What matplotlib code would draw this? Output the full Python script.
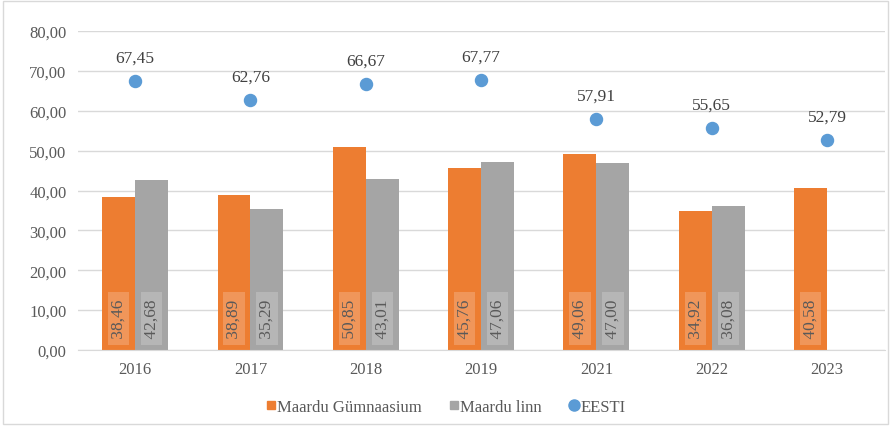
import matplotlib
matplotlib.use('Agg')
import matplotlib.pyplot as plt
import numpy as np

years = ['2016', '2017', '2018', '2019', '2021', '2022', '2023']
gymnasium = [38.46, 38.89, 50.85, 45.76, 49.06, 34.92, 40.58]
linn = [42.68, 35.29, 43.01, 47.06, 47.00, 36.08, None]
eesti = [67.45, 62.76, 66.67, 67.77, 57.91, 55.65, 52.79]

ORANGE = '#ED7D31'
GRAY = '#A5A5A5'
BLUE = '#5B9BD5'
TEXT = '#595959'

plt.rcParams['font.family'] = ['Liberation Serif', 'DejaVu Serif']


def fmt(v):
    return f'{v:.2f}'.replace('.', ',')


def inside_label(xpos, v):
    # value printed vertically near the foot of the bar, on a pale box
    ax.text(xpos, 8.0, ' ' + fmt(v) + ' ', rotation=90, ha='center', va='center',
            fontsize=12.5, color=TEXT, zorder=4,
            bbox=dict(boxstyle='square,pad=0.15', fc='white', ec='none', alpha=0.2))


fig = plt.figure(figsize=(8.91, 4.27), dpi=100)
ax = fig.add_axes([0.087, 0.178, 0.906, 0.747])

x = np.arange(len(years))
w = 0.286

for i, v in enumerate(gymnasium):
    ax.bar(x[i] - w / 2, v, w, color=ORANGE, zorder=2)
    inside_label(x[i] - w / 2, v)
for i, v in enumerate(linn):
    if v is None:
        continue
    ax.bar(x[i] + w / 2, v, w, color=GRAY, zorder=2)
    inside_label(x[i] + w / 2, v)

ax.scatter(x, eesti, s=75, color=BLUE, zorder=3)
for xi, v in zip(x, eesti):
    ax.annotate(fmt(v), (xi, v), xytext=(0, 11), textcoords='offset points',
                ha='center', va='bottom', fontsize=12.5, color='#404040')

ax.set_xlim(-0.5, len(years) - 0.5)
ax.set_ylim(0, 80)
ax.set_yticks(np.arange(0, 81, 10))
ax.set_yticklabels([fmt(t) for t in np.arange(0, 81, 10)])
ax.set_xticks(x)
ax.set_xticklabels(years)
ax.tick_params(axis='both', length=0, labelsize=12, labelcolor=TEXT, pad=8)
ax.grid(axis='y', color='#D9D9D9', lw=1, zorder=0)
for s in ['top', 'right', 'left']:
    ax.spines[s].set_visible(False)
ax.spines['bottom'].set_color('#D9D9D9')

handles = [
    plt.Line2D([], [], marker='s', ls='', color=ORANGE, markersize=6),
    plt.Line2D([], [], marker='s', ls='', color=GRAY, markersize=6),
    plt.Line2D([], [], marker='o', ls='', color=BLUE, markersize=8),
]
fig.legend(handles, ['Maardu Gümnaasium', 'Maardu linn', 'EESTI'],
           loc='center', bbox_to_anchor=(0.5, 0.045), ncol=3, frameon=False,
           fontsize=12, labelcolor=TEXT, handlelength=0.6, handletextpad=0.1,
           columnspacing=1.6)

fig.add_artist(plt.Rectangle((0.003, 0.005), 0.994, 0.99, transform=fig.transFigure,
                             fill=False, ec='#D9D9D9', lw=1))

fig.savefig('out.png', dpi=100)
